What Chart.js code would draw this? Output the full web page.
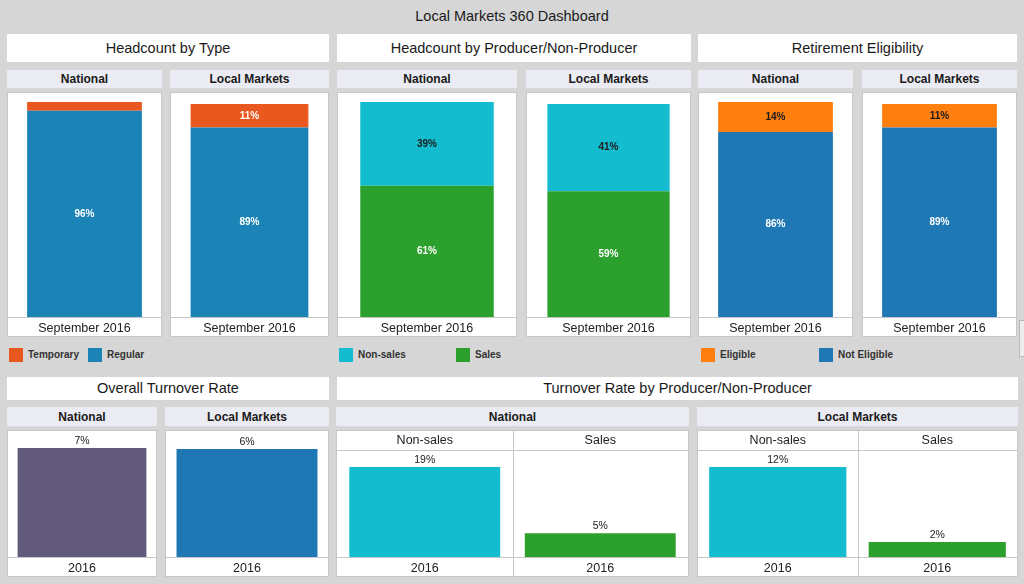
<!DOCTYPE html>
<html><head><meta charset="utf-8">
<script src="https://cdn.jsdelivr.net/npm/chart.js@4.4.0/dist/chart.umd.min.js"></script>
<style>
html,body{margin:0;padding:0;}
body{width:1024px;height:584px;background:#d6d6d6;position:relative;overflow:hidden;font-family:Arial,"Liberation Sans",sans-serif;color:#1a1a1a;}
.box{position:absolute;box-sizing:border-box;}
.title{left:0;top:6px;width:1024px;height:20px;text-align:center;font-size:14.5px;line-height:20px;}
.hdr{background:#fff;text-align:center;font-size:14.5px;}
.sub{background:#ebebf3;text-align:center;font-size:12px;font-weight:bold;border-bottom:1px solid #d6d6de;}
.pane{background:#fff;border:1px solid #c6c6c6;}
.pane canvas{position:absolute;left:0;top:0;}
.leg{position:absolute;font-size:10px;font-weight:bold;color:#333;line-height:14px;white-space:nowrap;}
.sw{position:absolute;width:14px;height:14px;}
</style></head>
<body>
<script>
// ---------------- data ----------------
const periodLabels = ['September 2016'];
const typeSeries = ['Temporary', 'Regular'];
const typeNational = [4, 96];
const typeLocal = [11, 89];
const producerSeries = ['Non-sales', 'Sales'];
const producerNational = [39, 61];
const producerLocal = [41, 59];
const retireSeries = ['Eligible', 'Not Eligible'];
const retireNational = [14, 86];
const retireLocal = [11, 89];
const turnoverYear = ['2016'];
const turnoverNational = [7];
const turnoverLocal = [6];
const turnoverGroups = ['Non-sales', 'Sales'];
const turnoverGroupNational = [19, 5];
const turnoverGroupLocal = [12, 2];

// ---------------- styles ----------------
const FONT = 'Arial, "Liberation Sans", sans-serif';
const typeColors = ['#e8581f', '#1b83b5'];
const typeLabelColors = ['#ffffff', '#ffffff'];
const producerColors = ['#13bdcf', '#2ca02c'];
const producerLabelColors = ['#1a1a1a', '#ffffff'];
const retireColors = ['#ff7f0e', '#1f77b4'];
const retireLabelColors = ['#1a1a1a', '#ffffff'];
const turnoverNationalColor = '#625a7b';
const turnoverLocalColor = '#1f77b4';

function addBox(cls, x, y, w, h, text){
  const d = document.createElement('div');
  d.className = 'box ' + cls;
  Object.assign(d.style, {left:x+'px', top:y+'px', width:w+'px', height:h+'px', lineHeight:h+'px'});
  if (text) d.textContent = text;
  document.body.appendChild(d);
  return d;
}
function makePane(x, y, w, h){
  const d = addBox('pane', x, y, w, h);
  d.style.lineHeight = 'normal';
  const c = document.createElement('canvas');
  c.width = w - 2; c.height = h - 2;
  c.style.width = (w - 2) + 'px'; c.style.height = (h - 2) + 'px';
  d.appendChild(c);
  return c;
}
function addLegend(series, colors, xs, y){
  series.forEach((s, i) => {
    const sw = document.createElement('div');
    sw.className = 'sw';
    Object.assign(sw.style, {left:xs[i]+'px', top:y+'px', background:colors[i]});
    document.body.appendChild(sw);
    const t = document.createElement('div');
    t.className = 'leg';
    Object.assign(t.style, {left:(xs[i]+19)+'px', top:y+'px'});
    t.textContent = s;
    document.body.appendChild(t);
  });
}

const valueLabels = {
  id: 'valueLabels',
  afterDatasetsDraw(chart, args, opts){
    const ctx = chart.ctx;
    chart.data.datasets.forEach((ds, di) => {
      const meta = chart.getDatasetMeta(di);
      meta.data.forEach((el, i) => {
        const v = ds.data[i];
        ctx.save();
        ctx.font = opts.font;
        ctx.textAlign = 'center';
        if (opts.mode === 'center') {
          const h = el.base - el.y;
          if (h >= 14) {
            ctx.fillStyle = ds.labelColor;
            ctx.textBaseline = 'middle';
            ctx.fillText(v + '%', el.x, (el.y + el.base) / 2);
          }
        } else {
          ctx.fillStyle = opts.color;
          ctx.textBaseline = 'bottom';
          ctx.fillText(v + '%', el.x, el.y - 2);
        }
        ctx.restore();
      });
    });
  }
};
const dividers = {
  id: 'dividers',
  afterDraw(chart){
    const x = chart.scales.x;
    const n = chart.data.labels.length;
    const ctx = chart.ctx;
    ctx.save();
    ctx.strokeStyle = '#c6c6c6'; ctx.lineWidth = 1;
    for (let i = 0; i < n - 1; i++) {
      const px = Math.round((x.getPixelForTick(i) + x.getPixelForTick(i + 1)) / 2) + 0.5;
      ctx.beginPath(); ctx.moveTo(px, 0); ctx.lineTo(px, chart.height); ctx.stroke();
    }
    ctx.restore();
  }
};

function xAxis(position, stacked, callback){
  const ticks = {color:'#222', font:{size:12.5, family:FONT}, padding:(position === 'top' ? 2 : 4), maxRotation:0, autoSkip:false};
  if (callback) ticks.callback = callback;
  return {
    type:'category', position:position, offset:true, stacked:!!stacked,
    grid:{display:false, drawTicks:false},
    border:{display:true, color:'#c6c6c6'},
    ticks:ticks,
    afterFit(s){ s.height = 19; }
  };
}
function baseOptions(labelOpts, scales){
  return {
    responsive:false, animation:false, layout:{padding:0},
    plugins:{legend:{display:false}, tooltip:{enabled:false}, valueLabels:labelOpts},
    scales:scales
  };
}
function stackedChart(canvas, series, values, colors, labelColors, yMax){
  const datasets = series.map((s, i) => ({
    label:s, data:[values[i]], backgroundColor:colors[i], labelColor:labelColors[i],
    barPercentage:0.75, categoryPercentage:1, borderWidth:0
  })).reverse();
  return new Chart(canvas, {
    type:'bar', data:{labels:periodLabels, datasets}, plugins:[valueLabels],
    options:baseOptions({mode:'center', font:'bold 10px ' + FONT},
      {x:xAxis('bottom', true), y:{display:false, stacked:true, min:0, max:yMax}})
  });
}
function singleChart(canvas, values, color, yMax){
  return new Chart(canvas, {
    type:'bar',
    data:{labels:turnoverYear, datasets:[{data:values, backgroundColor:color, barPercentage:0.87, categoryPercentage:1, borderWidth:0}]},
    plugins:[valueLabels],
    options:baseOptions({mode:'top', font:'10.5px ' + FONT, color:'#1a1a1a'},
      {x:xAxis('bottom'), y:{display:false, min:0, max:yMax}})
  });
}
function groupChart(canvas, values, colors, yMax){
  return new Chart(canvas, {
    type:'bar',
    data:{labels:turnoverGroups, datasets:[{data:values, backgroundColor:colors, barPercentage:0.86, categoryPercentage:1, borderWidth:0}]},
    plugins:[valueLabels, dividers],
    options:baseOptions({mode:'top', font:'10.5px ' + FONT, color:'#1a1a1a'},
      {x:xAxis('bottom', false, () => turnoverYear[0]), xTop:xAxis('top'), y:{display:false, min:0, max:yMax}})
  });
}

// ---------------- layout ----------------
addBox('title', 0, 6, 1024, 20, 'Local Markets 360 Dashboard');

addBox('hdr', 7, 34, 322, 28, 'Headcount by Type');
addBox('hdr', 337, 34, 354, 28, 'Headcount by Producer/Non-Producer');
addBox('hdr', 698, 34, 319, 28, 'Retirement Eligibility');

addBox('sub', 7, 70, 155, 19, 'National');
addBox('sub', 170, 70, 159, 19, 'Local Markets');
addBox('sub', 337, 70, 180, 19, 'National');
addBox('sub', 526, 70, 165, 19, 'Local Markets');
addBox('sub', 698, 70, 155, 19, 'National');
addBox('sub', 862, 70, 155, 19, 'Local Markets');

stackedChart(makePane(7, 92, 155, 245), typeSeries, typeNational, typeColors, typeLabelColors, 104.2);
stackedChart(makePane(170, 92, 159, 245), typeSeries, typeLocal, typeColors, typeLabelColors, 105.2);
stackedChart(makePane(337, 92, 180, 245), producerSeries, producerNational, producerColors, producerLabelColors, 104.2);
stackedChart(makePane(526, 92, 165, 245), producerSeries, producerLocal, producerColors, producerLabelColors, 105.2);
stackedChart(makePane(698, 92, 155, 245), retireSeries, retireNational, retireColors, retireLabelColors, 104.2);
stackedChart(makePane(862, 92, 155, 245), retireSeries, retireLocal, retireColors, retireLabelColors, 105.2);

addLegend(typeSeries, typeColors, [9, 88], 348);
addLegend(producerSeries, producerColors, [339, 456], 348);
addLegend(retireSeries, retireColors, [701, 819], 348);

addBox('hdr', 7, 377, 322, 23, 'Overall Turnover Rate');
addBox('hdr', 337, 377, 681, 23, 'Turnover Rate by Producer/Non-Producer');

addBox('sub', 7, 407, 150, 20, 'National');
addBox('sub', 165, 407, 164, 20, 'Local Markets');
addBox('sub', 336, 407, 353, 20, 'National');
addBox('sub', 697, 407, 321, 20, 'Local Markets');

singleChart(makePane(7, 430, 150, 147), turnoverNational, turnoverNationalColor, 8.09);
singleChart(makePane(165, 430, 164, 147), turnoverLocal, turnoverLocalColor, 7.0);
groupChart(makePane(336, 430, 353, 147), turnoverGroupNational, producerColors, 22.6);
groupChart(makePane(697, 430, 321, 147), turnoverGroupLocal, producerColors, 14.27);

const sb = addBox('', 1019, 320, 6, 37);
Object.assign(sb.style, {background:'#ececec', border:'1px solid #b8b8b8'});
</script>
</body></html>
